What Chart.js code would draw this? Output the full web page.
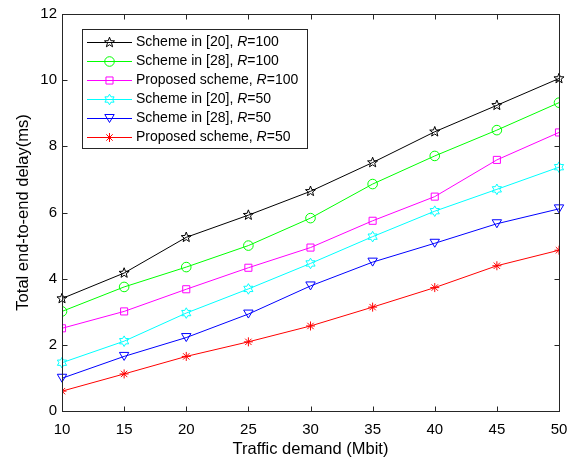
<!DOCTYPE html>
<html>
<head>
<meta charset="utf-8">
<title>Total end-to-end delay vs traffic demand</title>
<script src="https://cdn.jsdelivr.net/npm/chart.js@4.4.1/dist/chart.umd.min.js"></script>
<style>
    html, body { margin: 0; padding: 0; background: #fff; }
    #wrap { width: 581px; height: 462px; }
</style>
</head>
<body>
<div id="wrap"><canvas id="delayChart" width="581" height="462"></canvas></div>
<script>
// x values (Mbit)
const trafficDemand = [10, 15, 20, 25, 30, 35, 40, 45, 50];

// delay values (ms)
const scheme20R100 = [3.40, 4.17, 5.25, 5.92, 6.64, 7.51, 8.44, 9.24, 10.05];
const scheme28R100 = [3.01, 3.75, 4.35, 5.00, 5.83, 6.86, 7.71, 8.49, 9.32];
const proposedR100 = [2.50, 3.01, 3.68, 4.33, 4.94, 5.75, 6.48, 7.59, 8.42];
const scheme20R50  = [1.46, 2.11, 2.96, 3.69, 4.46, 5.27, 6.04, 6.70, 7.37];
const scheme28R50  = [0.99, 1.65, 2.22, 2.93, 3.78, 4.50, 5.07, 5.66, 6.11];
const proposedR50  = [0.60, 1.12, 1.65, 2.09, 2.57, 3.14, 3.73, 4.39, 4.86];

const seriesLabels = [
    'Scheme in [20], R=100',
    'Scheme in [28], R=100',
    'Proposed scheme, R=100',
    'Scheme in [20], R=50',
    'Scheme in [28], R=50',
    'Proposed scheme, R=50'
];

const FONT = '"Liberation Sans", Arial, Helvetica, sans-serif';
const AXIS_COLOR = '#262626';

// shapes chart.js has no point style for (pentagram, hexagram, down triangle)
function drawCustomMarker(ctx, kind, x, y, r, color) {
    ctx.save();
    ctx.strokeStyle = color;
    ctx.lineWidth = 1;
    ctx.beginPath();
    if (kind === 'pentagram' || kind === 'hexagram') {
        const n = kind === 'pentagram' ? 5 : 6;
        const inner = kind === 'pentagram' ? r * 0.42 : r * 0.577;
        for (let i = 0; i < n * 2; i++) {
            const rr = i % 2 === 0 ? r : inner;
            const a = -Math.PI / 2 + i * Math.PI / n;
            const px = x + rr * Math.cos(a);
            const py = y + rr * Math.sin(a);
            if (i === 0) ctx.moveTo(px, py); else ctx.lineTo(px, py);
        }
    } else if (kind === 'triangleDown') {
        const w = r;
        const h = r * 0.85;
        ctx.moveTo(x - w, y - h);
        ctx.lineTo(x + w, y - h);
        ctx.lineTo(x, y + h);
    }
    ctx.closePath();
    ctx.stroke();
    ctx.restore();
}

function series(label, data, color, marker, radius) {
    const builtIn = ['circle', 'rect', 'star'].includes(marker);
    return {
        label: label,
        data: data.map((v, i) => ({ x: trafficDemand[i], y: v })),
        borderColor: color,
        backgroundColor: 'transparent',
        borderWidth: 1,
        pointStyle: builtIn ? marker : 'circle',
        pointRadius: builtIn ? radius : 0,
        pointHoverRadius: builtIn ? radius : 0,
        pointBorderColor: color,
        pointBackgroundColor: 'transparent',
        pointBorderWidth: 1,
        customMarker: builtIn ? null : marker,
        markerSize: radius,
        tension: 0
    };
}

const datasets = [
    series(seriesLabels[0], scheme20R100, '#000000', 'pentagram', 5.3),
    series(seriesLabels[1], scheme28R100, '#00FF00', 'circle', 4.8),
    series(seriesLabels[2], proposedR100, '#FF00FF', 'rect', 5),
    series(seriesLabels[3], scheme20R50, '#00FFFF', 'hexagram', 5.3),
    series(seriesLabels[4], scheme28R50, '#0000FF', 'triangleDown', 4.7),
    series(seriesLabels[5], proposedR50, '#FF0000', 'star', 4.5)
];

function drawMarker(ctx, ds, x, y) {
    if (ds.customMarker) {
        drawCustomMarker(ctx, ds.customMarker, x, y, ds.markerSize, ds.borderColor);
        return;
    }
    ctx.save();
    ctx.strokeStyle = ds.borderColor;
    ctx.fillStyle = 'rgba(0,0,0,0)';
    ctx.lineWidth = 1;
    Chart.helpers.drawPoint(ctx, {
        pointStyle: ds.pointStyle,
        rotation: 0,
        radius: ds.markerSize,
        borderWidth: 1
    }, x, y);
    ctx.restore();
}

const markerPlugin = {
    id: 'customMarkers',
    afterDatasetsDraw(chart) {
        const ctx = chart.ctx;
        chart.data.datasets.forEach((ds, i) => {
            if (!ds.customMarker) return;
            const meta = chart.getDatasetMeta(i);
            meta.data.forEach(pt => drawCustomMarker(ctx, ds.customMarker, pt.x, pt.y, ds.markerSize, ds.borderColor));
        });
    }
};

// box around the plot with inward ticks on all four sides, plus the legend
const framePlugin = {
    id: 'matlabFrame',
    afterDraw(chart) {
        const ctx = chart.ctx;
        const area = chart.chartArea;
        const xs = chart.scales.x;
        const ys = chart.scales.y;
        const L = Math.round(area.left) + 0.5;
        const R = Math.round(area.right) + 0.5;
        const T = Math.round(area.top) + 0.5;
        const B = Math.round(area.bottom) + 0.5;
        const tick = 5;

        ctx.save();
        ctx.strokeStyle = AXIS_COLOR;
        ctx.lineWidth = 1;
        ctx.strokeRect(L, T, R - L, B - T);

        ctx.beginPath();
        xs.ticks.forEach(t => {
            const x = Math.round(xs.getPixelForValue(t.value)) + 0.5;
            ctx.moveTo(x, B); ctx.lineTo(x, B - tick);
            ctx.moveTo(x, T); ctx.lineTo(x, T + tick);
        });
        ys.ticks.forEach(t => {
            const y = Math.round(ys.getPixelForValue(t.value)) + 0.5;
            ctx.moveTo(L, y); ctx.lineTo(L + tick, y);
            ctx.moveTo(R, y); ctx.lineTo(R - tick, y);
        });
        ctx.stroke();

        // legend box
        const box = { x: 82.5, y: 29.5, w: 225, h: 119 };
        ctx.fillStyle = '#ffffff';
        ctx.fillRect(box.x, box.y, box.w, box.h);
        ctx.strokeStyle = AXIS_COLOR;
        ctx.strokeRect(box.x, box.y, box.w, box.h);

        const rowY0 = 41.5;
        const rowGap = 19.1;
        chart.data.datasets.forEach((ds, i) => {
            const y = Math.round(rowY0 + i * rowGap) + 0.5;
            ctx.strokeStyle = ds.borderColor;
            ctx.lineWidth = 1;
            ctx.beginPath();
            ctx.moveTo(87, y);
            ctx.lineTo(132, y);
            ctx.stroke();

            drawMarker(ctx, ds, 109.5, y);

            // label text, with the italic R
            const parts = ds.label.split('R=');
            ctx.fillStyle = '#000000';
            ctx.textBaseline = 'middle';
            ctx.textAlign = 'left';
            let tx = 136;
            ctx.font = '14px ' + FONT;
            ctx.fillText(parts[0], tx, y);
            tx += ctx.measureText(parts[0]).width;
            ctx.font = 'italic 14px ' + FONT;
            ctx.fillText('R', tx, y);
            tx += ctx.measureText('R').width;
            ctx.font = '14px ' + FONT;
            ctx.fillText('=' + parts[1], tx, y);
        });
        ctx.restore();
    }
};

const chart = new Chart(document.getElementById('delayChart').getContext('2d'), {
    type: 'line',
    data: { datasets: datasets },
    options: {
        responsive: false,
        animation: false,
        layout: { padding: { left: 0, top: 11, right: 22, bottom: 0 } },
        plugins: {
            legend: { display: false },
            tooltip: { enabled: false }
        },
        scales: {
            x: {
                type: 'linear',
                min: 10,
                max: 50,
                grid: { display: false, drawTicks: false },
                border: { display: false },
                ticks: {
                    stepSize: 5,
                    padding: 10,
                    color: '#000000',
                    font: { family: FONT, size: 15 }
                },
                title: {
                    display: true,
                    text: 'Traffic demand (Mbit)',
                    color: '#000000',
                    font: { family: FONT, size: 16.5 },
                    padding: { top: 0, bottom: 3 }
                },
                afterFit: scale => { scale.height = 51; }
            },
            y: {
                type: 'linear',
                min: 0,
                max: 12,
                grid: { display: false, drawTicks: false },
                border: { display: false },
                ticks: {
                    stepSize: 2,
                    padding: 5,
                    color: '#000000',
                    font: { family: FONT, size: 15 }
                },
                title: {
                    display: true,
                    text: 'Total end-to-end delay(ms)',
                    color: '#000000',
                    font: { family: FONT, size: 16.5 },
                    padding: { top: 14, bottom: 0 }
                },
                afterFit: scale => { scale.width = 62; }
            }
        }
    },
    plugins: [markerPlugin, framePlugin]
});
</script>
</body>
</html>
